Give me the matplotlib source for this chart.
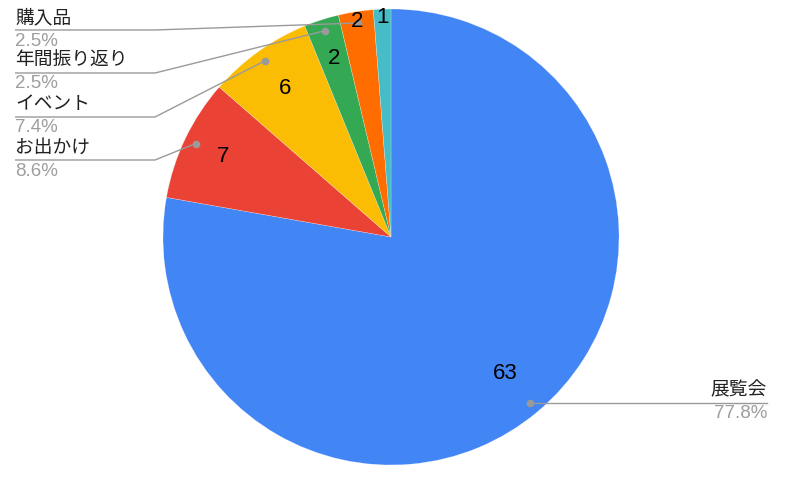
import numpy as np
import matplotlib
matplotlib.use("Agg")
import matplotlib.pyplot as plt

# data
categories = ["展覧会", "お出かけ", "イベント", "年間振り返り", "購入品", ""]
counts = [63, 7, 6, 2, 2, 1]
colors = ["#4285F4", "#EA4335", "#FBBC04", "#34A853", "#FF6D01", "#46BDC6"]

W, H = 792, 482
plt.rcParams["font.family"] = ["Liberation Sans", "Noto Sans CJK JP", "DejaVu Sans"]

fig = plt.figure(figsize=(W / 100, H / 100), dpi=100)
ax = fig.add_axes([0, 0, 1, 1])

cx, cy, R = 391, H - 237, 228
total = sum(counts)
wedges, _ = ax.pie(counts, colors=colors, startangle=90, counterclock=False,
                   center=(cx, cy), radius=R, frame=True,
                   wedgeprops=dict(edgecolor=(1, 1, 1, 0.5), linewidth=0.3))
ax.set_xlim(0, W); ax.set_ylim(0, H); ax.set_aspect("equal"); ax.axis("off")

# in-slice value labels (small slices pushed outward like the original)
val_r = [0.78, 0.815, 0.80, 0.82, 0.955, 0.965]
mids = [np.deg2rad((w.theta1 + w.theta2) / 2) for w in wedges]
for v, a, fr in zip(counts, mids, val_r):
    ax.text(cx + fr * R * np.cos(a), cy + fr * R * np.sin(a), str(v),
            ha="center", va="center", fontsize=16, color="black")

# outside labels with leader lines
LINE_C, PCT_C = "#9a9a9a", "#9e9e9e"
FS = 13.5
left = [i for i in range(1, len(counts)) if categories[i]]
left_y = {4: 30, 3: 73, 2: 117, 1: 160}    # leader line rows (px from top)
x0, elbow = 15, 155
for i in left:
    a = mids[i]
    dx, dy = cx + 0.95 * R * np.cos(a), cy + 0.95 * R * np.sin(a)
    ly = H - left_y[i]
    ax.plot([x0, elbow, dx], [ly, ly, dy], color=LINE_C, lw=1, solid_capstyle="butt")
    ax.plot(dx, dy, "o", color=LINE_C, ms=4.5)
    ax.text(x0, ly + 12, categories[i], ha="left", va="center", fontsize=FS, color="#222222")
    ax.text(x0, ly - 11, f"{counts[i] / total * 100:.1f}%", ha="left", va="center",
            fontsize=FS, color=PCT_C)

# right label for the big slice
a = mids[0]
dx, dy = cx + 0.95 * R * np.cos(a), cy + 0.95 * R * np.sin(a)
x1 = 767
ax.plot([dx, x1], [dy, dy], color=LINE_C, lw=1)
ax.plot(dx, dy, "o", color=LINE_C, ms=4.5)
ax.text(x1, dy + 12.5, categories[0], ha="right", va="center", fontsize=FS, color="#222222")
ax.text(x1, dy - 10.5, f"{counts[0] / total * 100:.1f}%", ha="right", va="center",
        fontsize=FS, color=PCT_C)

fig.savefig("out.png", dpi=100, facecolor="white")
